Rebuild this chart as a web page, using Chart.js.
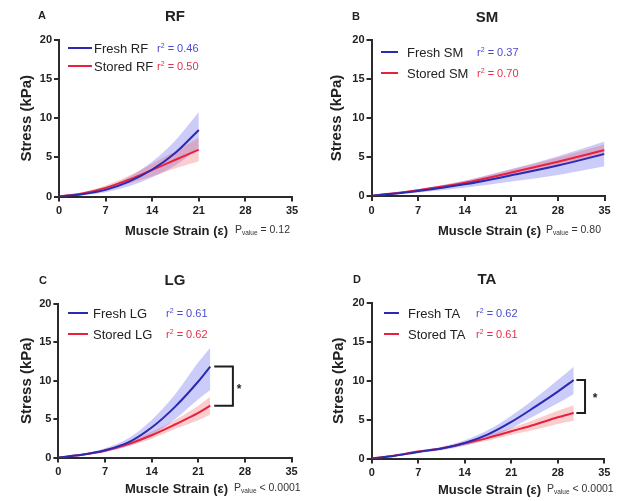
<!DOCTYPE html>
<html>
<head>
<meta charset="utf-8">
<script src="https://cdn.jsdelivr.net/npm/chart.js@4.4.0/dist/chart.umd.min.js"></script>
<style>
  body { margin:0; background:#fff; width:621px; height:501px; position:relative; overflow:hidden;
         font-family:"Liberation Sans", Arial, sans-serif; color:#222; }
  .panel { position:absolute; width:310px; height:251px; }
  .panel canvas { position:absolute; left:0; top:0; }
  .t { position:absolute; white-space:nowrap; line-height:1; }
  .c { transform:translate(-50%,-50%); }
  .l { transform:translateY(-50%); }
  .letter { font-size:11px; font-weight:bold; }
  .title { font-size:15px; font-weight:bold; }
  .leg { font-size:13px; color:#222; }
  .r2 { font-size:11px; }
  .r2 sup { font-size:7px; vertical-align:4px; }
  .xt { font-size:13px; font-weight:bold; }
  .pv { font-size:10.5px; color:#333; }
  .pv sub { font-size:6.5px; vertical-align:-2px; }
  .swatch { position:absolute; height:2px; }
  .star { font-size:12px; font-weight:bold; }
</style>
</head>
<body>

<div class="panel" id="pA" style="left:0;top:0">
  <canvas id="cA" width="310" height="250"></canvas>
  <div class="t letter l" style="left:38px;top:15px">A</div>
  <div class="t title c" style="left:175px;top:15px">RF</div>
  <div class="swatch" style="left:68px;top:47px;width:24px;background:#2a2ab2"></div>
  <div class="t leg l" style="left:94px;top:48px">Fresh RF</div>
  <div class="t r2 l" style="left:157px;top:48px;color:#4b4bd0">r<sup>2</sup> = 0.46</div>
  <div class="swatch" style="left:68px;top:65px;width:24px;background:#e8223c"></div>
  <div class="t leg l" style="left:94px;top:66px">Stored RF</div>
  <div class="t r2 l" style="left:157px;top:66px;color:#e8304a">r<sup>2</sup> = 0.50</div>
  <div class="t xt l" style="left:125px;top:230px">Muscle Strain (ε)</div>
  <div class="t pv l" style="left:235px;top:230px">P<sub>value</sub> = 0.12</div>
</div>

<div class="panel" id="pB" style="left:310px;top:0">
  <canvas id="cB" width="310" height="250"></canvas>
  <div class="t letter l" style="left:42px;top:16px">B</div>
  <div class="t title c" style="left:177px;top:16px">SM</div>
  <div class="swatch" style="left:71px;top:51px;width:17px;background:#2a2ab2"></div>
  <div class="t leg l" style="left:97px;top:52px">Fresh SM</div>
  <div class="t r2 l" style="left:167px;top:52px;color:#4b4bd0">r<sup>2</sup> = 0.37</div>
  <div class="swatch" style="left:71px;top:72px;width:17px;background:#e8223c"></div>
  <div class="t leg l" style="left:97px;top:73px">Stored SM</div>
  <div class="t r2 l" style="left:167px;top:73px;color:#e8304a">r<sup>2</sup> = 0.70</div>
  <div class="t xt l" style="left:128px;top:230px">Muscle Strain (ε)</div>
  <div class="t pv l" style="left:236px;top:230px">P<sub>value</sub> = 0.80</div>
</div>

<div class="panel" id="pC" style="left:0;top:250px">
  <canvas id="cC" width="310" height="251"></canvas>
  <div class="t letter l" style="left:39px;top:30px">C</div>
  <div class="t title c" style="left:175px;top:29px">LG</div>
  <div class="swatch" style="left:68px;top:62px;width:20px;background:#2a2ab2"></div>
  <div class="t leg l" style="left:93px;top:63px">Fresh LG</div>
  <div class="t r2 l" style="left:166px;top:63px;color:#4b4bd0">r<sup>2</sup> = 0.61</div>
  <div class="swatch" style="left:68px;top:83px;width:20px;background:#e8223c"></div>
  <div class="t leg l" style="left:93px;top:84px">Stored LG</div>
  <div class="t r2 l" style="left:166px;top:84px;color:#e8304a">r<sup>2</sup> = 0.62</div>
  <div class="t star c" style="left:239px;top:139px">*</div>
  <div class="t xt l" style="left:125px;top:238px">Muscle Strain (ε)</div>
  <div class="t pv l" style="left:234px;top:238px">P<sub>value</sub> &lt; 0.0001</div>
</div>

<div class="panel" id="pD" style="left:310px;top:250px">
  <canvas id="cD" width="310" height="251"></canvas>
  <div class="t letter l" style="left:43px;top:29px">D</div>
  <div class="t title c" style="left:177px;top:28px">TA</div>
  <div class="swatch" style="left:74px;top:62px;width:15px;background:#2a2ab2"></div>
  <div class="t leg l" style="left:98px;top:63px">Fresh TA</div>
  <div class="t r2 l" style="left:166px;top:63px;color:#4b4bd0">r<sup>2</sup> = 0.62</div>
  <div class="swatch" style="left:74px;top:83px;width:15px;background:#e8223c"></div>
  <div class="t leg l" style="left:98px;top:84px">Stored TA</div>
  <div class="t r2 l" style="left:166px;top:84px;color:#e8304a">r<sup>2</sup> = 0.61</div>
  <div class="t star c" style="left:285px;top:148px">*</div>
  <div class="t xt l" style="left:128px;top:239px">Muscle Strain (ε)</div>
  <div class="t pv l" style="left:237px;top:239px">P<sub>value</sub> &lt; 0.0001</div>
</div>

<script>
// Shared axis ticks
const strainTicks = [0, 7, 14, 21, 28, 35];
const stressTicks = [0, 5, 10, 15, 20];

// RF: stress (kPa) vs muscle strain
const rfStrain      = [0, 3.5, 7, 10.5, 14, 17.5, 21];
const rfFresh       = [0, 0.30, 0.85, 1.90, 3.45, 5.60, 8.50];
const rfFreshHi     = [0, 0.40, 1.15, 2.50, 4.45, 7.20, 10.8];
const rfFreshLo     = [0, 0.20, 0.55, 1.30, 2.45, 4.00, 6.20];
const rfStored      = [0, 0.40, 1.10, 2.15, 3.40, 4.70, 6.00];
const rfStoredHi    = [0, 0.55, 1.40, 2.65, 4.20, 5.80, 7.50];
const rfStoredLo    = [0, 0.25, 0.80, 1.65, 2.60, 3.60, 4.50];

// SM
const smStrain      = [0, 7, 14, 21, 28, 35];
const smFresh       = [0, 0.65, 1.50, 2.65, 3.90, 5.40];
const smFreshHi     = [0, 0.85, 1.95, 3.45, 5.10, 7.00];
const smFreshLo     = [0, 0.45, 1.05, 1.85, 2.70, 3.80];
const smStored      = [0, 0.75, 1.70, 3.00, 4.40, 5.90];
const smStoredHi    = [0, 0.85, 1.95, 3.40, 4.95, 6.60];
const smStoredLo    = [0, 0.65, 1.45, 2.60, 3.85, 5.20];

// LG
const lgStrain      = [0, 3.5, 7, 10.5, 14, 17.5, 21, 22.8];
const lgFresh       = [0, 0.35, 0.95, 1.96, 3.90, 6.60, 9.90, 11.85];
const lgFreshHi     = [0, 0.45, 1.20, 2.50, 4.90, 8.20, 12.4, 14.3];
const lgFreshLo     = [0, 0.25, 0.70, 1.45, 2.90, 5.00, 7.60, 8.80];
const lgStored      = [0, 0.35, 0.87, 1.74, 2.90, 4.30, 5.80, 6.75];
const lgStoredHi    = [0, 0.40, 1.00, 2.00, 3.35, 4.90, 6.75, 7.90];
const lgStoredLo    = [0, 0.30, 0.75, 1.50, 2.45, 3.70, 4.85, 5.60];

// TA
const taStrain      = [0, 3.5, 7, 10.5, 14, 17.5, 21, 24.5, 28, 30.4];
const taFresh       = [0, 0.35, 0.85, 1.28, 2.00, 3.10, 4.70, 6.60, 8.60, 10.1];
const taFreshHi     = [0, 0.45, 1.00, 1.50, 2.35, 3.65, 5.50, 7.70, 10.1, 11.8];
const taFreshLo     = [0, 0.25, 0.70, 1.06, 1.65, 2.55, 3.90, 5.50, 7.10, 8.30];
const taStored      = [0, 0.40, 0.90, 1.30, 1.95, 2.65, 3.50, 4.35, 5.30, 5.85];
const taStoredHi    = [0, 0.45, 1.00, 1.45, 2.20, 3.00, 3.95, 5.00, 6.15, 6.85];
const taStoredLo    = [0, 0.35, 0.80, 1.15, 1.70, 2.30, 3.05, 3.70, 4.45, 4.85];

const FRESH_LINE = '#2a2ab2';
const STORED_LINE = '#e8223c';
const FRESH_BAND = 'rgba(95, 95, 240, 0.32)';
const STORED_BAND = 'rgba(240, 90, 95, 0.30)';
const AXIS = '#2b2b2b';
const FONT = '"Liberation Sans", Arial, sans-serif';

const pts = (xs, ys) => xs.map((x, i) => ({ x: x, y: ys[i] }));

// Significance bracket joining the two curve end points
const bracketPlugin = {
  id: 'bracket',
  afterDatasetsDraw(chart, args, opts) {
    if (!opts || opts.x0 === undefined) return;
    const xs = chart.scales.x, ys = chart.scales.y;
    const a = xs.getPixelForValue(opts.x0), b = xs.getPixelForValue(opts.x1);
    const t = ys.getPixelForValue(opts.top), u = ys.getPixelForValue(opts.bottom);
    const ctx = chart.ctx;
    ctx.save();
    ctx.strokeStyle = '#1e1e1e';
    ctx.lineWidth = 2;
    ctx.beginPath();
    ctx.moveTo(a, t); ctx.lineTo(b, t); ctx.lineTo(b, u); ctx.lineTo(a, u);
    ctx.stroke();
    ctx.restore();
  }
};

function makeChart(id, area, yTitleX, strain, f, fHi, fLo, s, sHi, sLo, bracket) {
  const cv = document.getElementById(id);
  const W = cv.width, H = cv.height;
  const curve = { pointRadius: 0, cubicInterpolationMode: 'monotone', fill: false };
  return new Chart(cv, {
    type: 'line',
    data: {
      datasets: [
        Object.assign({ data: pts(strain, f), borderColor: FRESH_LINE, borderWidth: 2, order: 0 }, curve),
        Object.assign({ data: pts(strain, s), borderColor: STORED_LINE, borderWidth: 2, order: 0 }, curve),
        Object.assign({}, curve, { data: pts(strain, sHi), borderWidth: 0, borderColor: 'transparent', backgroundColor: STORED_BAND, fill: '+1', order: 1 }),
        Object.assign({}, curve, { data: pts(strain, sLo), borderWidth: 0, borderColor: 'transparent', order: 1 }),
        Object.assign({}, curve, { data: pts(strain, fHi), borderWidth: 0, borderColor: 'transparent', backgroundColor: FRESH_BAND, fill: '+1', order: 2 }),
        Object.assign({}, curve, { data: pts(strain, fLo), borderWidth: 0, borderColor: 'transparent', order: 2 })
      ]
    },
    options: {
      responsive: false,
      animation: false,
      events: [],
      layout: { padding: { left: 0, right: W - area.right, top: area.top, bottom: 0 } },
      plugins: {
        legend: { display: false },
        tooltip: { enabled: false },
        bracket: bracket || {}
      },
      scales: {
        x: {
          type: 'linear', min: 0, max: 35,
          afterFit(sc) { sc.height = H - area.bottom; },
          afterBuildTicks(sc) { sc.ticks = strainTicks.map(v => ({ value: v })); },
          ticks: { color: '#222', padding: 3, font: { family: FONT, size: 11, weight: 'bold' } },
          grid: { drawOnChartArea: false, drawTicks: true, tickLength: 5, color: AXIS, lineWidth: 2 },
          border: { display: true, color: AXIS, width: 2 }
        },
        y: {
          type: 'linear', min: 0, max: 20,
          afterFit(sc) { sc.width = area.left; },
          afterBuildTicks(sc) { sc.ticks = stressTicks.map(v => ({ value: v })); },
          ticks: { color: '#222', padding: 2, font: { family: FONT, size: 11, weight: 'bold' } },
          grid: { drawOnChartArea: false, drawTicks: true, tickLength: 5, color: AXIS, lineWidth: 2 },
          border: { display: true, color: AXIS, width: 2 },
          title: { display: true, text: 'Stress (kPa)', color: '#222',
                   font: { family: FONT, size: 15, weight: 'bold' },
                   padding: { top: yTitleX - 9, bottom: 0 } }
        }
      }
    },
    plugins: [bracketPlugin]
  });
}

makeChart('cA', { left: 59, right: 292, top: 40, bottom: 196.5 }, 27,
  rfStrain, rfFresh, rfFreshHi, rfFreshLo, rfStored, rfStoredHi, rfStoredLo);
makeChart('cB', { left: 61.5, right: 294.5, top: 40, bottom: 196 }, 27,
  smStrain, smFresh, smFreshHi, smFreshLo, smStored, smStoredHi, smStoredLo);
makeChart('cC', { left: 58.4, right: 291.5, top: 54, bottom: 207.5 }, 27,
  lgStrain, lgFresh, lgFreshHi, lgFreshLo, lgStored, lgStoredHi, lgStoredLo,
  { x0: 23.4, x1: 26.2, top: lgFresh[lgFresh.length - 1], bottom: lgStored[lgStored.length - 1] });
makeChart('cD', { left: 61.7, right: 294.3, top: 53, bottom: 208.5 }, 29,
  taStrain, taFresh, taFreshHi, taFreshLo, taStored, taStoredHi, taStoredLo,
  { x0: 30.8, x1: 32.1, top: taFresh[taFresh.length - 1], bottom: taStored[taStored.length - 1] });
</script>
</body>
</html>
